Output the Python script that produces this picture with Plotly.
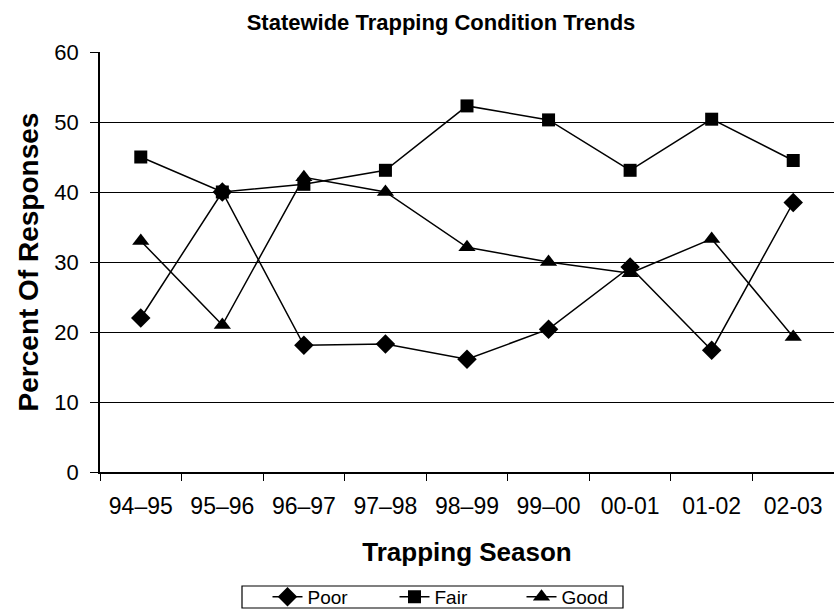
import plotly.graph_objects as go

seasons = ["94–95", "95–96", "96–97", "97–98", "98–99", "99–00", "00-01", "01-02", "02-03"]
poor = [22, 40, 18.1, 18.3, 16.1, 20.4, 29.3, 17.4, 38.5]
fair = [45, 40, 41.1, 43.1, 52.3, 50.3, 43.1, 50.4, 44.5]
good = [33, 21, 42.1, 40, 32.1, 30, 28.4, 33.3, 19.3]

FONT = "Liberation Sans, Arial, sans-serif"

fig = go.Figure()
fig.add_trace(go.Scatter(x=seasons, y=poor, name="Poor", mode="lines+markers",
                         line=dict(color="black", width=1.5),
                         marker=dict(symbol="diamond", size=15, color="black")))
fig.add_trace(go.Scatter(x=seasons, y=fair, name="Fair", mode="lines+markers",
                         line=dict(color="black", width=1.5),
                         marker=dict(symbol="square", size=13, color="black")))
fig.add_trace(go.Scatter(x=seasons, y=good, name="Good", mode="lines+markers",
                         line=dict(color="black", width=1.5),
                         marker=dict(symbol="triangle-up", size=15, color="black")))

# legend frame (plot area spans x 100..834 px, y 52..472 px)
def px_x(p):
    return (p - 100) / 734

def px_y(p):
    return (472 - p) / 420

fig.add_shape(type="rect", xref="paper", yref="paper",
              x0=px_x(242), x1=px_x(623), y0=px_y(608), y1=px_y(586),
              line=dict(color="black", width=1.2), fillcolor="rgba(0,0,0,0)", layer="above")

fig.update_layout(
    width=834, height=610,
    margin=dict(l=100, r=0, t=52, b=138, autoexpand=False),
    paper_bgcolor="white", plot_bgcolor="white",
    font=dict(family=FONT, color="black", size=20),
    title=dict(text="<b>Statewide Trapping Condition Trends</b>", x=441/834, xanchor="center",
               xref="container", yref="container",
               y=1 - 22/610, yanchor="middle",
               font=dict(size=22, family=FONT, color="black")),
    showlegend=True,
    legend=dict(orientation="h", xref="container", yref="container",
                x=458/834, xanchor="center", y=1 - 597/610, yanchor="middle",
                borderwidth=0, bgcolor="rgba(0,0,0,0)",
                font=dict(size=19, family=FONT), tracegroupgap=0,
                entrywidth=82, entrywidthmode="pixels"),
    xaxis=dict(type="category", range=[-0.5, 8.5], showgrid=False,
               showline=True, linecolor="black", linewidth=1.5,
               ticks="outside", tickson="boundaries", ticklen=7, tickcolor="black",
               ticklabelstandoff=13,
               tickfont=dict(size=23, family=FONT),
               title=dict(text="<b>Trapping Season</b>", font=dict(size=26, family=FONT), standoff=24)),
    yaxis=dict(range=[0, 60], dtick=10, showgrid=True, gridcolor="black", gridwidth=1,
               showline=True, linecolor="black", linewidth=1.5,
               ticks="outside", ticklen=8, tickcolor="black",
               ticklabelstandoff=7,
               tickfont=dict(size=22, family=FONT), zeroline=False,
               title=dict(text="<b>Percent Of Responses</b>", font=dict(size=28, family=FONT), standoff=8)),
)

fig.write_html("out.html", config={"displayModeBar": False},
               post_script="document.body.style.margin='0';document.body.style.overflow='hidden';")
